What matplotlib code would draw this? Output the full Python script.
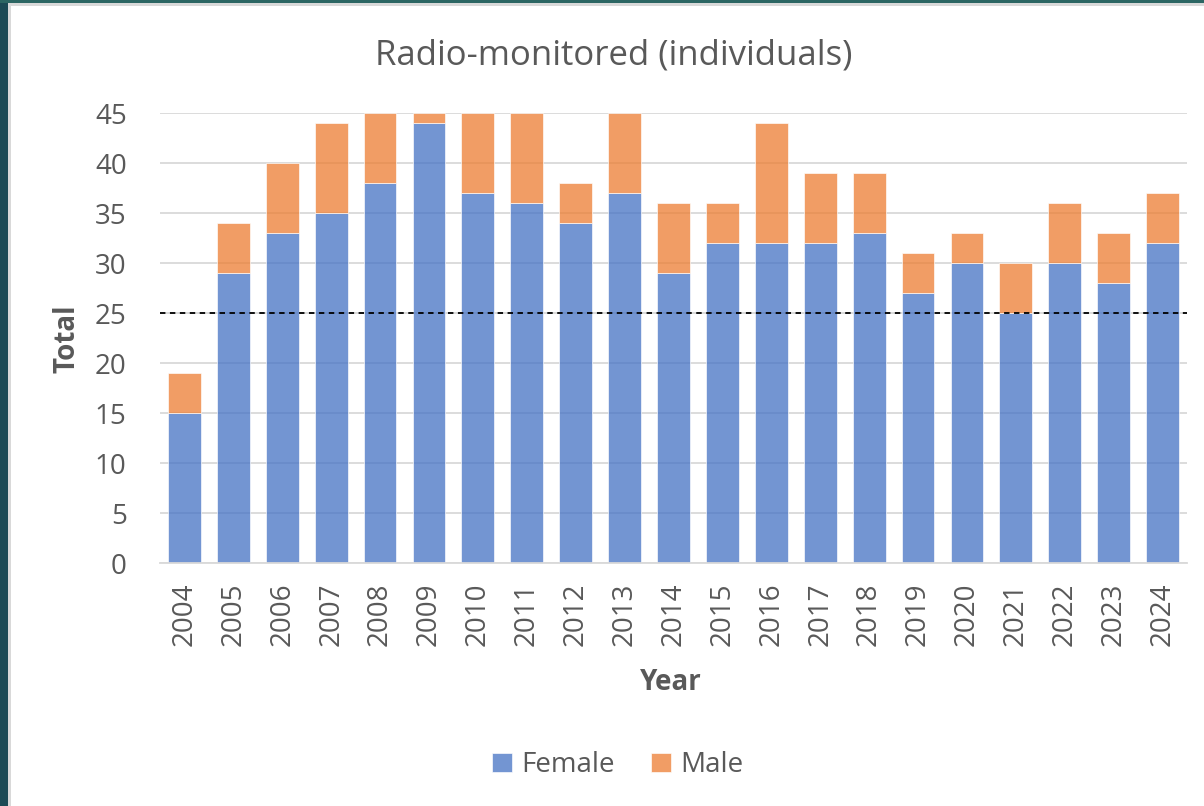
import matplotlib
matplotlib.use("Agg")
import matplotlib.pyplot as plt
from matplotlib.patches import Rectangle

years = ["2004", "2005", "2006", "2007", "2008", "2009", "2010", "2011", "2012", "2013", "2014",
         "2015", "2016", "2017", "2018", "2019", "2020", "2021", "2022", "2023", "2024"]
female = [15, 29, 33, 35, 38, 44, 37, 36, 34, 37, 29, 32, 32, 32, 33, 27, 30, 25, 30, 28, 32]
male = [4, 5, 7, 9, 7, 1, 8, 9, 4, 8, 7, 4, 12, 7, 6, 4, 3, 5, 6, 5, 5]
threshold = 25

W, H = 1204, 806
fig = plt.figure(figsize=(W / 100, H / 100), dpi=100)
fig.patch.set_facecolor("#1c4a55")

bg = fig.add_axes([0, 0, 1, 1], zorder=-10)
bg.set_xlim(0, W)
bg.set_ylim(H, 0)
bg.axis("off")
bg.add_patch(Rectangle((0, 0), W, 3, facecolor="#2c6663", edgecolor="none"))
bg.add_patch(Rectangle((8, 3), W - 8, H - 3, facecolor="#d9d9d9", edgecolor="none"))
bg.add_patch(Rectangle((11, 6), W - 11, H - 6, facecolor="white", edgecolor="none"))

left, right, top, bottom = 160, 1187, 113, 563
ax = fig.add_axes([left / W, 1 - bottom / H, (right - left) / W, (bottom - top) / H], zorder=1)
ax.set_facecolor("none")

font = "Open Sans"
grey = "#595959"
fs = 20
x = list(range(len(years)))
ax.bar(x, female, width=0.67, color="#4472C4", alpha=0.75, edgecolor="white", linewidth=0.6,
       label="Female", zorder=2)
ax.bar(x, male, bottom=female, width=0.67, color="#ED7D31", alpha=0.75, edgecolor="white",
       linewidth=0.6, label="Male", zorder=2)
ax.axhline(threshold, color="black", linestyle=(0, (3, 2.5)), linewidth=1.3, zorder=3)

ax.set_xlim(-0.5, len(years) - 0.5)
ax.set_ylim(0, 45)
ax.set_yticks(range(0, 46, 5))
ax.yaxis.grid(True, color="#d9d9d9", linewidth=1.3, zorder=1)
ax.set_axisbelow(True)
for s in ["top", "right", "left"]:
    ax.spines[s].set_visible(False)
ax.spines["bottom"].set_color("#d9d9d9")
ax.spines["bottom"].set_linewidth(1.3)
ax.tick_params(axis="both", length=0, colors=grey, labelsize=fs)
ax.tick_params(axis="y", pad=24)
ax.tick_params(axis="x", pad=14)
ax.set_xticks(x)
ax.set_xticklabels(years, rotation=90, fontfamily=font)
for lab in ax.get_yticklabels():
    lab.set_fontfamily(font)

fig.text(671 / W, 1 - 683 / H, "Year", ha="center", va="center", fontsize=fs,
         fontweight="bold", color=grey, fontfamily=font)
fig.text(67 / W, 1 - 339 / H, "Total", ha="center", va="center", rotation=90, fontsize=fs,
         fontweight="bold", color=grey, fontfamily=font)
fig.text(614 / W, 1 - 55 / H, "Radio-monitored (individuals)", ha="center", va="center",
         fontsize=25, color=grey, fontfamily=font)

leg = fig.legend(*ax.get_legend_handles_labels(), loc="center",
                 bbox_to_anchor=(618 / W, 1 - 765 / H),
                 ncol=2, frameon=False, handlelength=0.7, handleheight=0.7,
                 columnspacing=1.3, handletextpad=0.35, prop={"family": font, "size": fs})
for t in leg.get_texts():
    t.set_color(grey)

fig.savefig("out.png", dpi=100, facecolor=fig.get_facecolor())
